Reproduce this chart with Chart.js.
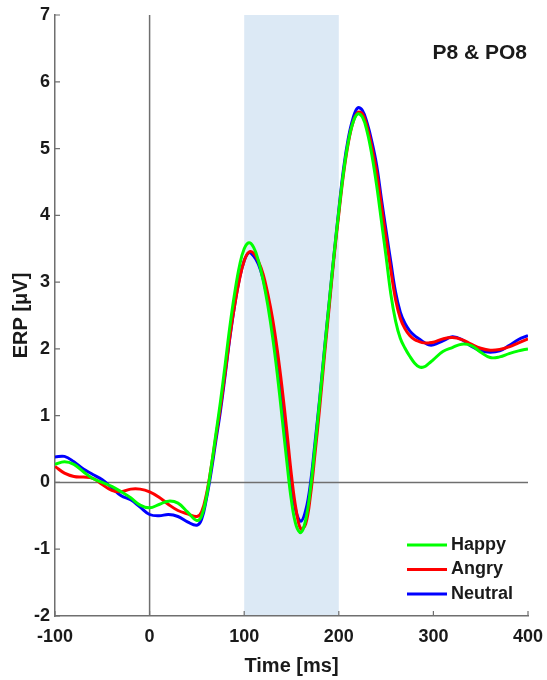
<!DOCTYPE html>
<html>
<head>
<meta charset="utf-8">
<script src="https://cdn.jsdelivr.net/npm/chart.js@4/dist/chart.umd.min.js"></script>
<style>
  html, body { margin: 0; padding: 0; background: #fff; }
  #wrap { width: 547px; height: 680px; }
</style>
</head>
<body>
<div id="wrap"><canvas id="erp" width="547" height="680"></canvas></div>
<script>
// sample times (ms): 10 ms steps outside the components, 5 ms steps around them
const times = [
  -100, -90, -80, -70, -60, -50, -40, -30, -20, -10, 0, 10, 20, 30, 40, 50,
  55, 60, 65, 70, 75, 80, 85, 90, 95, 100, 105, 110, 115, 120, 125, 130, 135, 140, 145, 150,
  155, 160, 165, 170, 175, 180, 185, 190, 195, 200, 205, 210, 215, 220, 225, 230, 235, 240, 245, 250,
  255, 260, 265, 270, 275, 280, 285, 290, 295, 300,
  310, 320, 330, 340, 350, 360, 370, 380, 390, 400
];

const happy = [
  0.27, 0.31, 0.27, 0.16, 0.06, 0.00, -0.06, -0.14, -0.23, -0.34, -0.38, -0.33, -0.28, -0.31, -0.44, -0.57,
  -0.50, -0.22, 0.22, 0.72, 1.22, 1.78, 2.35, 2.84, 3.24, 3.50, 3.59, 3.52, 3.32, 3.03, 2.65, 2.18, 1.62, 0.98, 0.32, -0.28,
  -0.65, -0.75, -0.56, -0.10, 0.56, 1.26, 2.00, 2.72, 3.42, 4.06, 4.65, 5.10, 5.39, 5.52, 5.47, 5.25, 4.90, 4.45, 3.92, 3.38,
  2.82, 2.42, 2.16, 2.01, 1.89, 1.79, 1.73, 1.73, 1.78, 1.84,
  1.96, 2.02, 2.07, 2.05, 1.95, 1.87, 1.88, 1.93, 1.97, 2.00
];

const angry = [
  0.24, 0.14, 0.09, 0.08, 0.06, -0.03, -0.12, -0.14, -0.10, -0.10, -0.14, -0.22, -0.33, -0.42, -0.47, -0.51,
  -0.44, -0.18, 0.22, 0.68, 1.14, 1.66, 2.20, 2.66, 3.04, 3.32, 3.45, 3.43, 3.31, 3.12, 2.82, 2.45, 1.98, 1.42, 0.78, 0.10,
  -0.42, -0.70, -0.62, -0.20, 0.45, 1.15, 1.92, 2.65, 3.38, 4.02, 4.62, 5.08, 5.39, 5.54, 5.52, 5.32, 5.02, 4.65, 4.15, 3.66,
  3.18, 2.74, 2.46, 2.30, 2.20, 2.14, 2.11, 2.09, 2.09, 2.10,
  2.15, 2.17, 2.14, 2.07, 2.01, 1.98, 1.99, 2.03, 2.09, 2.15
];

const neutral = [
  0.38, 0.39, 0.31, 0.20, 0.12, 0.04, -0.08, -0.20, -0.26, -0.37, -0.48, -0.50, -0.48, -0.51, -0.59, -0.64,
  -0.55, -0.25, 0.15, 0.62, 1.08, 1.62, 2.18, 2.66, 3.05, 3.32, 3.44, 3.39, 3.27, 3.05, 2.72, 2.35, 1.85, 1.28, 0.62, -0.03,
  -0.45, -0.58, -0.42, -0.02, 0.62, 1.28, 2.02, 2.72, 3.42, 4.08, 4.70, 5.15, 5.45, 5.61, 5.57, 5.38, 5.10, 4.75, 4.25, 3.77,
  3.30, 2.85, 2.55, 2.38, 2.27, 2.20, 2.15, 2.10, 2.06, 2.06,
  2.12, 2.18, 2.14, 2.04, 1.97, 1.95, 1.97, 2.05, 2.14, 2.20
];

const conditions = ['Happy', 'Angry', 'Neutral'];
const colors = ['#00ff00', '#ff0000', '#0000ff'];
const xTicks = [-100, 0, 100, 200, 300, 400];
const yTicks = [-2, -1, 0, 1, 2, 3, 4, 5, 6, 7];
const shadedWindow = [100, 200];
const panelTitle = 'P8 & PO8';

const FONT = '"Liberation Sans", Arial, sans-serif';
const AXIS_GREY = '#6f6f6f';
const TEXT = '#1a1a1a';

const toPoints = vals => times.map((t, i) => ({ x: t, y: vals[i] }));

const decorations = {
  id: 'decorations',
  beforeDraw(chart) {
    const { ctx, chartArea: a, scales: { x } } = chart;
    const x0 = x.getPixelForValue(shadedWindow[0]);
    const x1 = x.getPixelForValue(shadedWindow[1]);
    ctx.save();
    ctx.fillStyle = '#dce9f5';
    ctx.fillRect(x0, a.top, x1 - x0, a.bottom - a.top);
    ctx.restore();
  },
  beforeDatasetsDraw(chart) {
    const { ctx, chartArea: a, scales: { x, y } } = chart;
    ctx.save();
    ctx.strokeStyle = AXIS_GREY;
    ctx.lineWidth = 1.5;
    const y0 = y.getPixelForValue(0);
    const xz = x.getPixelForValue(0);
    ctx.beginPath();
    ctx.moveTo(a.left, y0); ctx.lineTo(a.right, y0);
    ctx.moveTo(xz, a.top); ctx.lineTo(xz, a.bottom);
    ctx.stroke();
    ctx.restore();
  },
  afterDraw(chart) {
    const { ctx, chartArea: a, scales: { x, y } } = chart;
    ctx.save();
    // inward tick marks
    ctx.strokeStyle = AXIS_GREY;
    ctx.lineWidth = 1.2;
    ctx.beginPath();
    yTicks.forEach(v => {
      const py = y.getPixelForValue(v);
      ctx.moveTo(a.left, py); ctx.lineTo(a.left + 5, py);
    });
    xTicks.forEach(v => {
      const px = x.getPixelForValue(v);
      ctx.moveTo(px, a.bottom); ctx.lineTo(px, a.bottom - 5);
    });
    ctx.stroke();

    // panel title
    ctx.fillStyle = TEXT;
    ctx.font = 'bold 21px ' + FONT;
    ctx.textAlign = 'right';
    ctx.textBaseline = 'middle';
    ctx.fillText(panelTitle, a.right - 1, 53);

    // legend, bottom right
    ctx.font = 'bold 18px ' + FONT;
    ctx.textAlign = 'left';
    const lx = 407, rowY = [545, 569.5, 594];
    conditions.forEach((name, i) => {
      ctx.strokeStyle = colors[i];
      ctx.lineWidth = 3;
      ctx.beginPath();
      ctx.moveTo(lx, rowY[i]); ctx.lineTo(lx + 40, rowY[i]);
      ctx.stroke();
      ctx.fillStyle = TEXT;
      ctx.fillText(name, lx + 44, rowY[i]);
    });
    ctx.restore();
  }
};

new Chart(document.getElementById('erp'), {
  type: 'line',
  data: {
    datasets: [happy, angry, neutral].map((vals, i) => ({
      label: conditions[i],
      data: toPoints(vals),
      borderColor: colors[i],
      borderWidth: 3,
      pointRadius: 0,
      tension: 0.4,
      fill: false
    }))
  },
  options: {
    responsive: false,
    animation: false,
    devicePixelRatio: 1,
    layout: { padding: { top: 15, right: 19, left: 0, bottom: 0 } },
    plugins: { legend: { display: false }, tooltip: { enabled: false } },
    scales: {
      x: {
        type: 'linear',
        min: -100,
        max: 400,
        afterBuildTicks: s => { s.ticks = xTicks.map(v => ({ value: v })); },
        afterFit: s => { s.height = 64; s.paddingLeft = 0; s.paddingRight = 0; },
        grid: { display: false, drawTicks: false },
        border: { display: true, color: AXIS_GREY, width: 1.5 },
        ticks: { color: TEXT, font: { family: FONT, size: 18, weight: 'bold' }, padding: 10, maxRotation: 0 },
        title: {
          display: true, text: 'Time [ms]', color: TEXT,
          font: { family: FONT, size: 20, weight: 'bold' }, padding: { top: 2, bottom: 2 }
        }
      },
      y: {
        min: -2,
        max: 7,
        afterBuildTicks: s => { s.ticks = yTicks.map(v => ({ value: v })); },
        afterFit: s => { s.width = 55; s.paddingTop = 0; s.paddingBottom = 0; },
        grid: { display: false, drawTicks: false },
        border: { display: true, color: AXIS_GREY, width: 1.5 },
        ticks: { color: TEXT, font: { family: FONT, size: 18, weight: 'bold' }, padding: 5 },
        title: {
          display: true, text: 'ERP [μV]', color: TEXT,
          font: { family: FONT, size: 20, weight: 'bold' }, padding: { top: 9, bottom: 0 }
        }
      }
    }
  },
  plugins: [decorations]
});
</script>
</body>
</html>
